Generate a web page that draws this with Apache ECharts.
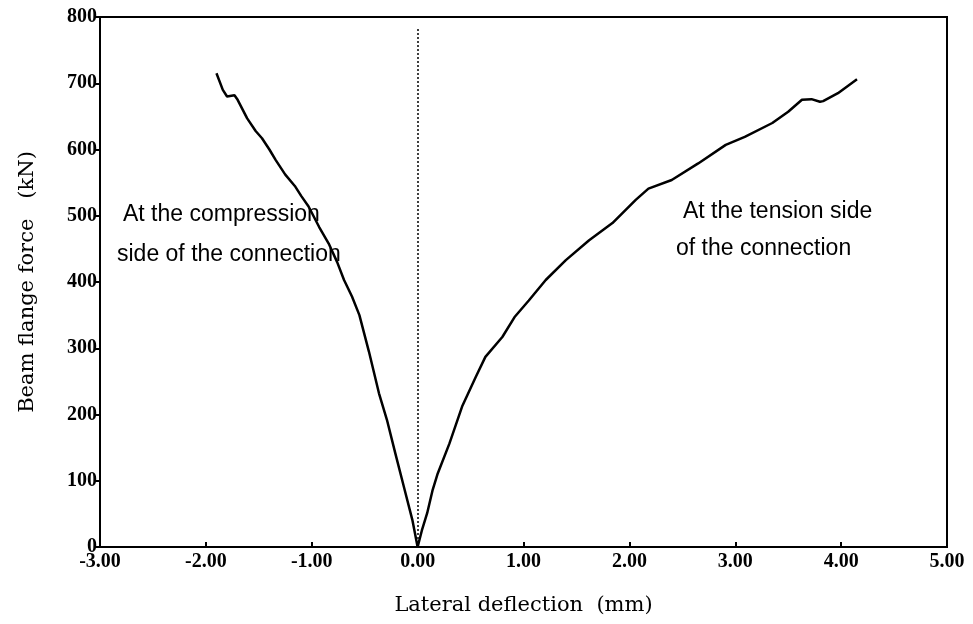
<!DOCTYPE html>
<html>
<head>
<meta charset="utf-8">
<script src="https://cdn.jsdelivr.net/npm/echarts@6/dist/echarts.min.js"></script>
<style>
html,body{margin:0;padding:0;background:#fff;}
#chart{width:973px;height:624px;}
</style>
</head>
<body>
<div id="chart"></div>
<script>
// Compression side (negative deflection)
const compressionX = [-1.90,-1.84,-1.80,-1.73,-1.70,-1.61,-1.53,-1.47,-1.40,-1.34,-1.25,-1.16,-1.10,-1.03,-0.93,-0.84,-0.76,-0.695,-0.62,-0.55,-0.46,-0.365,-0.29,-0.21,-0.13,-0.05,0];
const compressionY = [715,690,680,682,675,647,628,617,600,584,562,545,530,514,483,458,430,403,378,350,295,232,192,141,91,41,0];
// Tension side (positive deflection)
const tensionX = [0,0.04,0.09,0.14,0.19,0.30,0.42,0.55,0.64,0.80,0.92,1.05,1.21,1.40,1.62,1.84,2.06,2.18,2.40,2.65,2.91,3.09,3.35,3.50,3.63,3.72,3.80,3.83,3.97,4.15];
const tensionY = [0,25,51,85,111,156,212,257,287,317,348,372,403,433,463,489,524,541,554,579,607,619,640,657,675,676,672,673,685,706];
const xTicks = [-3,-2,-1,0,1,2,3,4,5];
const yTicks = [0,100,200,300,400,500,600,700,800];
const refLineTop = 785;
const labelCompression = ['At the compression', 'side of the connection'];
const labelTension = ['At the tension side', 'of the connection'];

const chart = echarts.init(document.getElementById('chart'));
const pair = (xs, ys) => xs.map((x, i) => [x, ys[i]]);
const tickFont = {fontFamily: 'Liberation Serif', fontWeight: 'bold', fontSize: 20, color: '#000'};

chart.setOption({
  animation: false,
  backgroundColor: '#fff',
  grid: {left: 100, right: 26, top: 17, bottom: 77, show: true, borderColor: '#000', borderWidth: 2, backgroundColor: 'transparent'},
  xAxis: {
    type: 'value', min: xTicks[0], max: xTicks[xTicks.length-1], interval: 1,
    name: 'Lateral deflection  (mm)', nameLocation: 'middle', nameGap: 48,
    nameTextStyle: {fontFamily: 'DejaVu Serif', fontSize: 21, color: '#000'},
    axisLine: {onZero: false, lineStyle: {color: '#000', width: 2}},
    axisTick: {inside: true, length: 5, lineStyle: {color: '#000', width: 2}},
    axisLabel: Object.assign({formatter: v => v.toFixed(2), margin: 5}, tickFont),
    splitLine: {show: false}
  },
  yAxis: {
    type: 'value', min: yTicks[0], max: yTicks[yTicks.length-1], interval: 100,
    name: 'Beam flange force   (kN)', nameLocation: 'middle', nameGap: 62,
    nameTextStyle: {fontFamily: 'DejaVu Serif', fontSize: 21, color: '#000'},
    axisLine: {onZero: false, lineStyle: {color: '#000', width: 2}},
    axisTick: {inside: false, length: 5, lineStyle: {color: '#000', width: 2}},
    axisLabel: Object.assign({margin: 3}, tickFont),
    splitLine: {show: false}
  },
  series: [
    {
      type: 'line', data: pair(compressionX, compressionY), showSymbol: false,
      lineStyle: {color: '#000', width: 2.5}, z: 3,
      markLine: {
        silent: true, symbol: 'none', label: {show: false},
        lineStyle: {color: '#000', type: [2, 2], width: 1.5},
        data: [[{coord: [0, 0]}, {coord: [0, refLineTop]}]]
      }
    },
    {
      type: 'line', data: pair(tensionX, tensionY), showSymbol: false,
      lineStyle: {color: '#000', width: 2.5}, z: 3
    }
  ],
  graphic: [
    {type: 'text', left: 123, top: 203, z: 1, style: {text: labelCompression[0], font: '23px "Liberation Sans"', fill: '#000'}},
    {type: 'text', left: 117, top: 243, z: 1, style: {text: labelCompression[1], font: '23px "Liberation Sans"', fill: '#000'}},
    {type: 'text', left: 683, top: 200, z: 1, style: {text: labelTension[0], font: '23px "Liberation Sans"', fill: '#000'}},
    {type: 'text', left: 676, top: 237, z: 1, style: {text: labelTension[1], font: '23px "Liberation Sans"', fill: '#000'}}
  ]
});
</script>
</body>
</html>
